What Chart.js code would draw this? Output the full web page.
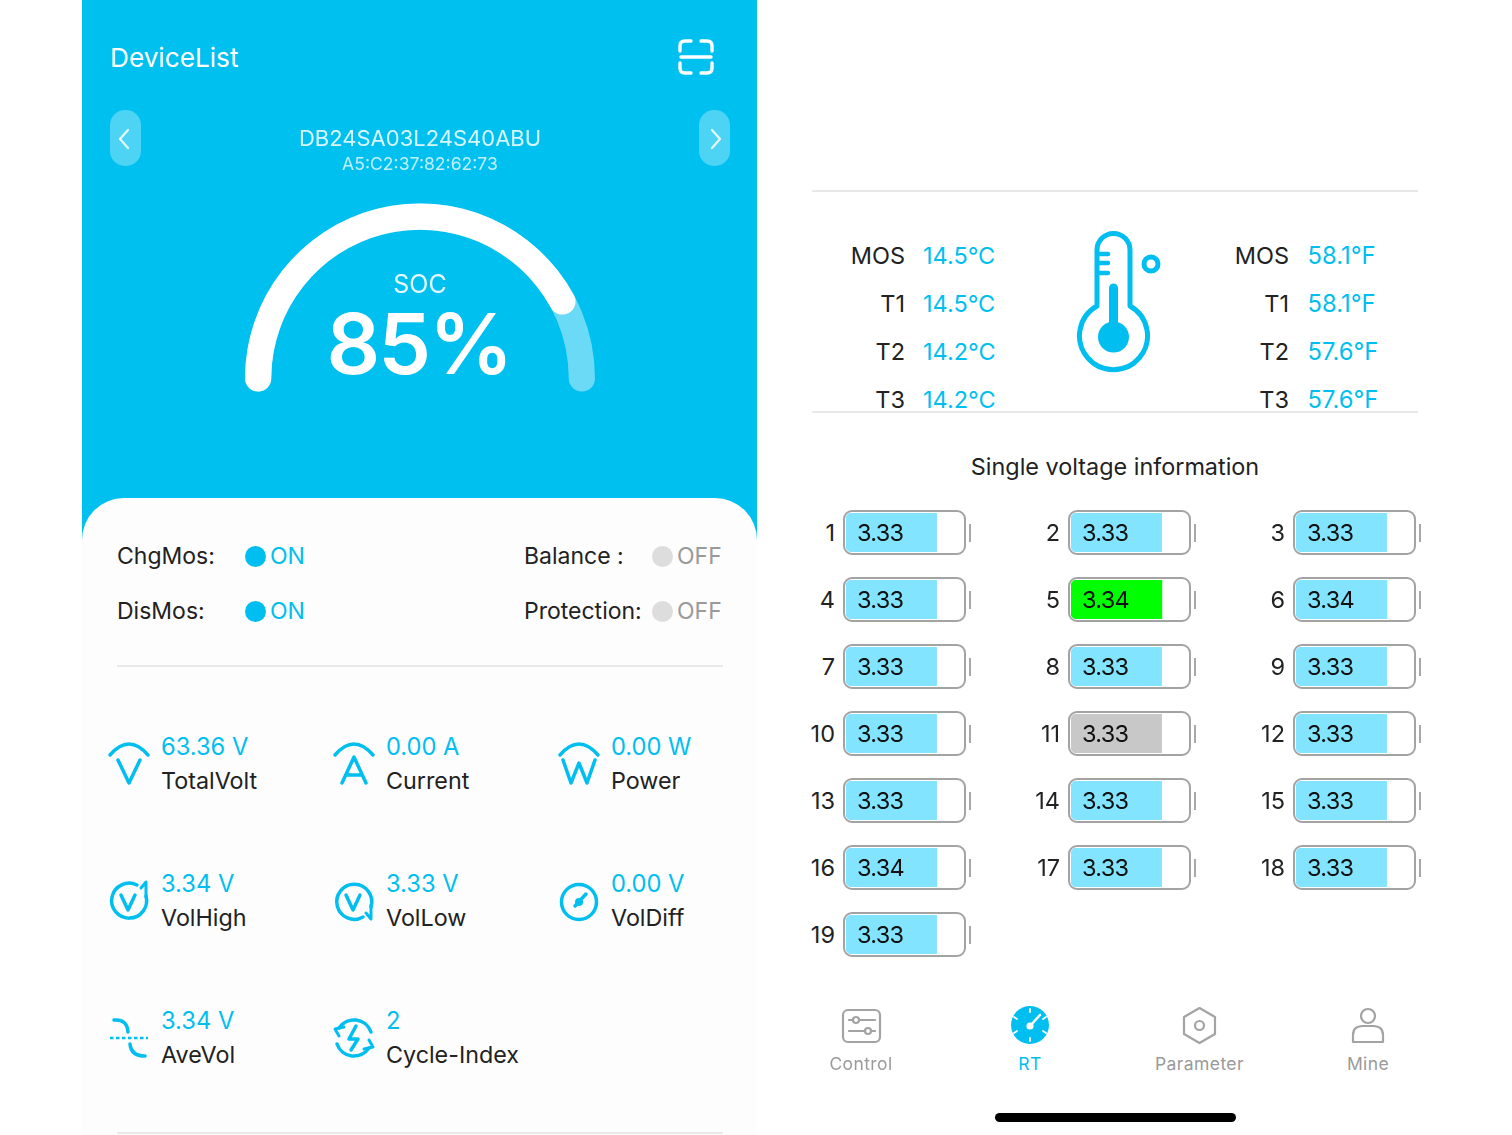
<!DOCTYPE html>
<html>
<head>
<meta charset="utf-8">
<title>DeviceList</title>
<script src="https://cdn.jsdelivr.net/npm/chart.js@4"></script>
<style>
    html, body { margin: 0; padding: 0; background: #fff; }
    body { position: relative; width: 1512px; height: 1135px; overflow: hidden; font-family: Inter, "Noto Sans", sans-serif; }
    .t { position: absolute; line-height: 1; white-space: nowrap; }
    .box { position: absolute; box-sizing: border-box; }
    canvas { position: absolute; }
    #blue { left: 82px; top: 0; width: 675px; height: 560px; background: #00c0ef; }
    #card { left: 82px; top: 498px; width: 675px; height: 637px; background: #fdfdfd; border-radius: 42px 42px 0 0; }
    #icons { position: absolute; left: 0; top: 0; }
</style>
</head>
<body>
<div class="box" id="blue"></div>
<div class="box" id="card"></div>
<script>
// data
const socValue = 85;
const socRest = 15;
const deviceName = 'DB24SA03L24S40ABU';
const deviceMac = 'A5:C2:37:82:62:73';

const statusLabels = ['ChgMos:', 'DisMos:', 'Balance :', 'Protection:'];
const statusValues = ['ON', 'ON', 'OFF', 'OFF'];

const statNames = ['TotalVolt', 'Current', 'Power', 'VolHigh', 'VolLow', 'VolDiff', 'AveVol', 'Cycle-Index'];
const statValues = ['63.36 V', '0.00 A', '0.00 W', '3.34 V', '3.33 V', '0.00 V', '3.34 V', '2'];

const tempNames = ['MOS', 'T1', 'T2', 'T3'];
const tempC = ['14.5°C', '14.5°C', '14.2°C', '14.2°C'];
const tempF = ['58.1°F', '58.1°F', '57.6°F', '57.6°F'];

const cellNumbers = [1, 2, 3, 4, 5, 6, 7, 8, 9, 10, 11, 12, 13, 14, 15, 16, 17, 18, 19];
const cellVolts = [3.33, 3.33, 3.33, 3.33, 3.34, 3.34, 3.33, 3.33, 3.33, 3.33, 3.33, 3.33, 3.33, 3.33, 3.33, 3.34, 3.33, 3.33, 3.33];
const highCell = 5;
const lowCell = 11;
const cellScaleMax = 4.3;

const navLabels = ['Control', 'RT', 'Parameter', 'Mine'];

// colours
const BLUE = '#00bff0';
const INK = '#222222';
const GREY = '#9a9a9a';

function addText(str, x, y, size, color, align, weight, spacing) {
    const el = document.createElement('div');
    el.className = 't';
    el.textContent = str;
    el.style.top = y + 'px';
    el.style.fontSize = size + 'px';
    el.style.color = color;
    if (weight) el.style.fontWeight = weight;
    if (spacing) el.style.letterSpacing = spacing + 'px';
    let tx = '0';
    if (align === 'center') tx = '-50%';
    if (align === 'right') tx = '-100%';
    el.style.left = x + 'px';
    el.style.transform = 'translate(' + tx + ', -50%)';
    document.body.appendChild(el);
    return el;
}

function addBox(x, y, w, h, css) {
    const el = document.createElement('div');
    el.className = 'box';
    el.style.cssText = 'left:' + x + 'px;top:' + y + 'px;width:' + w + 'px;height:' + h + 'px;' + css;
    document.body.appendChild(el);
    return el;
}

function addCanvas(x, y, w, h) {
    const c = document.createElement('canvas');
    c.width = w;
    c.height = h;
    c.style.left = x + 'px';
    c.style.top = y + 'px';
    c.style.width = w + 'px';
    c.style.height = h + 'px';
    document.body.appendChild(c);
    return c;
}

// ---- gauge ----
// the arc runs a bit past 180 degrees, borderRadius rounds the ends inside the sweep
const gaugeRotation = -94.6;
const gaugeSweep = 189.2;
function gaugeChart(values, colors) {
    new Chart(addCanvas(220, 148, 400, 300), {
        type: 'doughnut',
        data: { datasets: [{ data: values, backgroundColor: colors, borderWidth: 0, borderRadius: 13 }] },
        options: {
            responsive: false,
            animation: false,
            rotation: gaugeRotation,
            circumference: gaugeSweep,
            radius: 175,
            cutout: '85%',
            plugins: { legend: { display: false }, tooltip: { enabled: false } }
        }
    });
}
gaugeChart([socValue + socRest], ['rgba(255,255,255,0.42)']);
gaugeChart([socValue, socRest], ['#ffffff', 'rgba(255,255,255,0)']);

// ---- header ----
addText('DeviceList', 110, 58, 26.2, '#ffffff');
addBox(110, 110, 31, 56, 'background:rgba(255,255,255,0.3);border-radius:15px;');
addBox(699, 110, 31, 56, 'background:rgba(255,255,255,0.3);border-radius:15px;');
addText(deviceName, 420, 138, 22, 'rgba(255,255,255,0.85)', 'center');
addText(deviceMac, 420, 164, 17.6, 'rgba(255,255,255,0.75)', 'center');
addText('SOC', 420, 284, 25, 'rgba(255,255,255,0.9)', 'center');
addText(socValue + '%', 419, 344, 84, '#ffffff', 'center', 600, -2);

// ---- status rows ----
const statusX = [117, 117, 524, 524];
const statusDotX = [245, 245, 652, 652];
const statusY = [556, 611, 556, 611];
statusLabels.forEach((label, i) => {
    const on = statusValues[i] === 'ON';
    addText(label, statusX[i], statusY[i], 23, INK);
    addBox(statusDotX[i], statusY[i] - 10.5, 21, 21, 'border-radius:50%;background:' + (on ? BLUE : '#dddddd') + ';');
    addText(statusValues[i], statusDotX[i] + 25, statusY[i], 23, on ? BLUE : GREY);
});
addBox(117, 665, 606, 2, 'background:#e8e8e8;');

// ---- stat grid ----
const statColX = [161, 386, 611];
const statRowY = [747, 884.2, 1021.2];
statNames.forEach((name, i) => {
    const x = statColX[i % 3];
    const y = statRowY[Math.floor(i / 3)];
    addText(statValues[i], x, y, 23.7, BLUE);
    addText(name, x, y + 34, 23.3, INK);
});
addBox(117, 1132, 606, 2, 'background:#e8e8e8;');

// ---- temperatures ----
addBox(812, 190, 606, 2, 'background:#e8e8e8;');
addBox(812, 411, 606, 2, 'background:#e8e8e8;');
const tempRowY = [256, 304, 352, 400];
tempNames.forEach((name, i) => {
    addText(name, 905, tempRowY[i], 23.5, INK, 'right');
    addText(tempC[i], 923, tempRowY[i], 23.5, BLUE);
    addText(name, 1289, tempRowY[i], 23.5, INK, 'right');
    addText(tempF[i], 1307.5, tempRowY[i], 23.8, BLUE);
});

// ---- cells ----
addText('Single voltage information', 1115, 467, 23.4, INK, 'center');
const cellColX = [843, 1068, 1293];
const cellRowY = [510, 577, 644, 711, 778, 845, 912];
cellNumbers.forEach((num, i) => {
    const x = cellColX[i % 3];
    const y = cellRowY[Math.floor(i / 3)];
    let color = '#82e4ff';
    if (num === highCell) color = '#00ff00';
    if (num === lowCell) color = '#c8c8c8';

    addText(String(num), x - 8, y + 23, 23.5, INK, 'right');
    addBox(x, y, 123, 45, 'border:2px solid #a3a3a3;border-radius:9px;');
    addBox(x + 126, y + 14, 2, 18, 'background:#a8a8a8;');

    new Chart(addCanvas(x + 3, y + 3, 117, 39), {
        type: 'bar',
        data: {
            labels: [String(num)],
            datasets: [{
                data: [cellVolts[i]],
                backgroundColor: color,
                barPercentage: 1,
                categoryPercentage: 1,
                borderRadius: { topLeft: 6, bottomLeft: 6, topRight: 0, bottomRight: 0 },
                borderSkipped: false
            }]
        },
        options: {
            indexAxis: 'y',
            responsive: false,
            animation: false,
            layout: { padding: 0 },
            scales: {
                x: { display: false, min: 0, max: cellScaleMax },
                y: { display: false }
            },
            plugins: { legend: { display: false }, tooltip: { enabled: false } }
        }
    });

    addText(cellVolts[i].toFixed(2), x + 14, y + 23, 23.5, '#111111', null, null, -0.7);
});

// ---- nav ----
const navX = [861, 1030, 1199.5, 1368];
navLabels.forEach((label, i) => {
    addText(label, navX[i], 1064, 17.5, label === 'RT' ? BLUE : GREY, 'center', null, 0.4);
});
addBox(995, 1113, 241, 9, 'background:#000;border-radius:5px;');

// ---- icons ----
const iconParts = `
<g fill="none" stroke="#fff" stroke-width="3.4" stroke-linecap="round" stroke-linejoin="round">
  <path d="M680 51 V46 Q680 41 685 41 H691 M701 41 H707 Q712 41 712 46 V51 M680 63 V68 Q680 73 685 73 H691 M701 73 H707 Q712 73 712 68 V63"/>
  <path d="M681 57 H711"/>
  <path d="M128 130 L120 139 L128 148 M712 130 L720 139 L712 148" stroke-width="2.2" stroke="rgba(255,255,255,0.85)"/>
</g>
<g fill="none" stroke="${BLUE}" stroke-width="3.5" stroke-linecap="round" stroke-linejoin="round">
  <path d="M110 755 Q129 733 148 755"/><path d="M118 760 L129 783 L140 760"/>
  <path d="M335 755 Q354 733 373 755"/><path d="M342 783 L354 757 L366 783 M346 775 H362"/>
  <path d="M560 755 Q579 733 598 755"/><path d="M563 760 L571 783 L579 763 L587 783 L595 760"/>

  <path d="M146 896 A17.5 17.5 0 1 1 137 885"/><path d="M121 895 L128 910 L135 895"/>
  <path d="M146 883 V897 M141 888 L146 882" stroke-width="3"/>
  <path d="M371 907 A17.5 17.5 0 1 0 363 917"/><path d="M346 895 L353 910 L360 895"/>
  <path d="M371 905 V918 M366 913 L371 919" stroke-width="3"/>
  <circle cx="579" cy="902" r="17.5"/><path d="M575 906 L586 894"/>

  <path d="M114 1020 Q127 1019 128 1032 M130 1044 Q131 1056 145 1056"/>
  <path d="M110 1038 H148" stroke-dasharray="3.5 2.5" stroke-linecap="butt" stroke-width="2.5"/>
  <path d="M339 1028 A18 18 0 0 1 371 1032 M369 1048 A18 18 0 0 1 337 1044"/>
  <path d="M339 1036 L335 1029 L344 1027 M369 1040 L373 1047 L364 1049" stroke-width="3"/>
  <path d="M356 1026 L349 1039 H358 L351 1050" stroke-width="3.5"/>
</g>
<circle cx="579" cy="902" r="4" fill="${BLUE}"/>

<g fill="none" stroke="${BLUE}" stroke-width="5" stroke-linecap="round" stroke-linejoin="round">
  <path d="M1097 306 V250 A16.5 16.5 0 0 1 1130 250 V306 A34 34 0 1 1 1097 306 Z"/>
  <path d="M1098 254 H1108 M1098 263 H1108 M1098 273 H1108" stroke-width="4.5"/>
  <circle cx="1151" cy="264" r="7"/>
  <path d="M1113.5 288 V330" stroke-width="9"/>
</g>
<circle cx="1113.5" cy="337" r="15.5" fill="${BLUE}"/>

<g fill="none" stroke="#a3a3a3" stroke-width="2.2" stroke-linecap="round" stroke-linejoin="round">
  <rect x="843" y="1010" width="37" height="32" rx="5"/>
  <path d="M849 1020 H853 M859 1020 H875 M849 1031 H865 M871 1031 H875"/>
  <circle cx="856" cy="1020" r="3"/><circle cx="868" cy="1031" r="3"/>
  <path d="M1199.5 1008 L1215 1017 V1034 L1199.5 1043 L1184 1034 V1017 Z"/>
  <circle cx="1199.5" cy="1025.5" r="4.5"/>
  <circle cx="1368" cy="1016" r="7"/>
  <path d="M1353 1042 V1035 Q1353 1026 1363 1026 H1373 Q1383 1026 1383 1035 V1042 Z"/>
</g>
<circle cx="1030" cy="1025" r="19" fill="${BLUE}"/>
<g stroke="#fff" stroke-width="1.8" stroke-linecap="round" fill="none">
  <path d="M1030 1009 V1012 M1030 1038 V1041 M1014 1017 L1017 1019 M1043 1031 L1046 1033 M1014 1033 L1017 1031 M1043 1019 L1046 1017"/>
  <path d="M1030 1026 L1040 1015" stroke-width="2.4"/>
</g>
<circle cx="1030" cy="1026" r="3.6" fill="#fff"/>
`;
const overlay = document.createElementNS('http://www.w3.org/2000/svg', 'svg');
overlay.setAttribute('id', 'icons');
overlay.setAttribute('width', '1512');
overlay.setAttribute('height', '1135');
overlay.setAttribute('viewBox', '0 0 1512 1135');
overlay.innerHTML = iconParts;
document.body.appendChild(overlay);
</script>
</body>
</html>
